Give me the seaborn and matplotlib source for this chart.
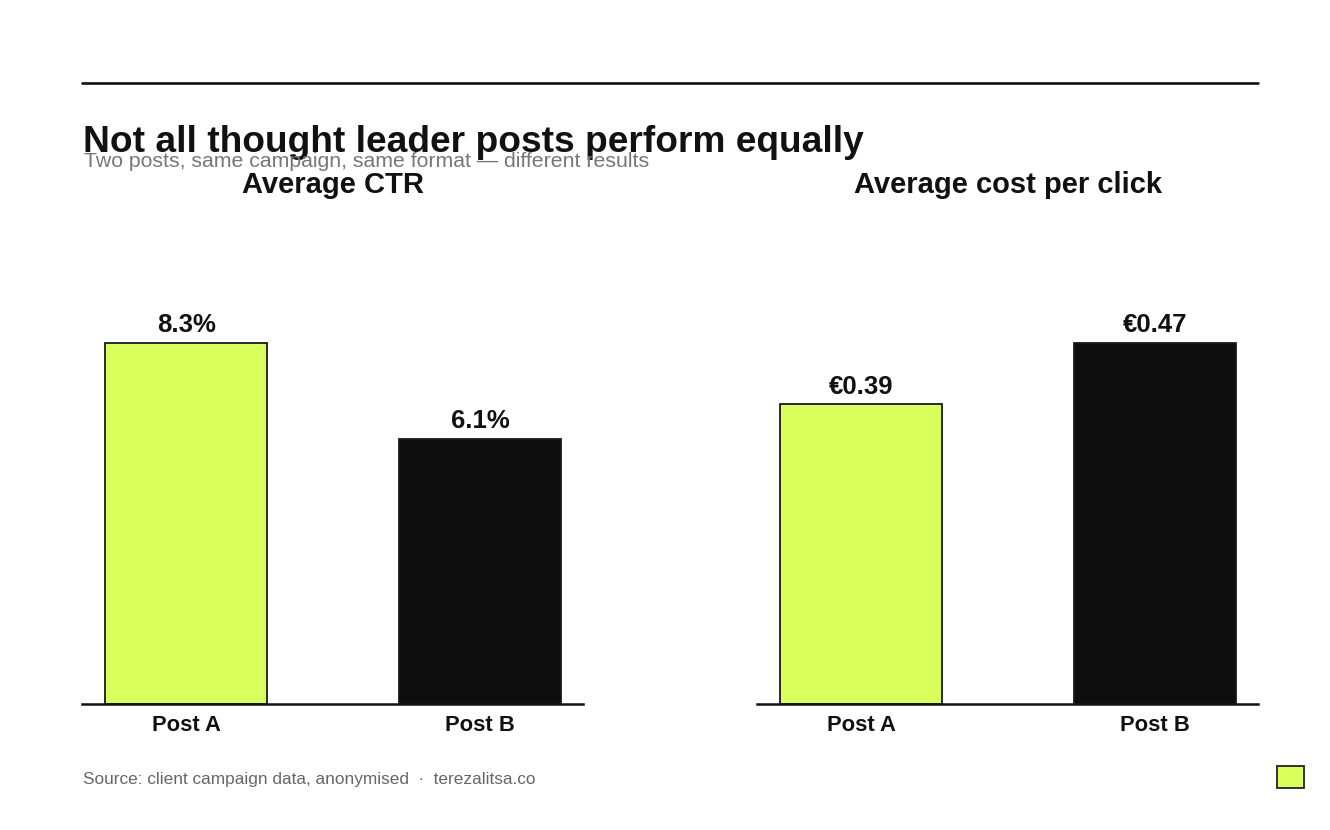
import numpy as np
import pandas as pd
import matplotlib
matplotlib.use("Agg")
import matplotlib.pyplot as plt
from matplotlib.lines import Line2D
from matplotlib.patches import Rectangle
import seaborn as sns

# data
posts = ["Post A", "Post B"]
ctr = [8.3, 6.1]
cpc = [0.39, 0.47]
panel_titles = ["Average CTR", "Average cost per click"]

lime = "#d9ff5c"
ink = "#0d0d0d"

sns.set_style("white")
plt.rcParams["font.family"] = ["Liberation Sans", "DejaVu Sans"]

fig = plt.figure(figsize=(13.3, 8.3), dpi=100)
W, H = 1330, 830

def px_axes(x0, x1, ytop, ybot):
    return fig.add_axes([x0 / W, 1 - ybot / H, (x1 - x0) / W, (ybot - ytop) / H])

ax1 = px_axes(82, 583, 205, 704)
ax2 = px_axes(757, 1258, 205, 704)

panels = [
    (ax1, ctr, lambda v: f"{v:.1f}%"),
    (ax2, cpc, lambda v: f"€{v:.2f}"),
]

for (ax, vals, fmt), title in zip(panels, panel_titles):
    df = pd.DataFrame({"post": posts, "value": vals})
    sns.barplot(data=df, x="post", y="value", hue="post", palette=[lime, ink],
                saturation=1, legend=False, width=0.55, edgecolor="#1a1a1a",
                linewidth=1.3, ax=ax)
    ax.set_xlim(-0.354, 1.35)
    ax.set_ylim(0, max(vals) * 499 / 361)
    for c in ax.containers:
        ax.bar_label(c, labels=[fmt(v) for v in c.datavalues], padding=4,
                     fontsize=18.5, fontweight="bold", color="#111111")
    ax.set_title(title, fontsize=21, fontweight="bold", color="#111111", pad=8.5)
    ax.set_xlabel("")
    ax.set_ylabel("")
    ax.set_yticks([])
    for s in ["top", "right", "left"]:
        ax.spines[s].set_visible(False)
    ax.spines["bottom"].set_linewidth(1.8)
    ax.spines["bottom"].set_color("#111111")
    ax.tick_params(axis="x", length=3, width=0.8, color="#666666", pad=5,
                   labelsize=15.8, labelcolor="#111111")
    for lab in ax.get_xticklabels():
        lab.set_fontweight("bold")

# top rule
fig.add_artist(Line2D([82 / W, 1258 / W], [1 - 83 / H, 1 - 83 / H],
                      color="#111111", linewidth=1.9))

fig.text(83 / W, 1 - 152 / H, "Not all thought leader posts perform equally",
         fontsize=26.7, fontweight="bold", color="#111111", va="baseline")
fig.text(84 / W, 1 - 167 / H, "Two posts, same campaign, same format — different results",
         fontsize=15.3, color="#777777", va="baseline")
fig.text(83 / W, 1 - 784 / H,
         "Source: client campaign data, anonymised  ·  terezalitsa.co",
         fontsize=12.4, color="#666666", va="baseline")

fig.add_artist(Rectangle((1277 / W, 1 - 788 / H), 27 / W, 22 / H,
                         facecolor=lime, edgecolor="#222222", linewidth=1.3,
                         transform=fig.transFigure))

fig.savefig("out.png", dpi=100, facecolor="white")
